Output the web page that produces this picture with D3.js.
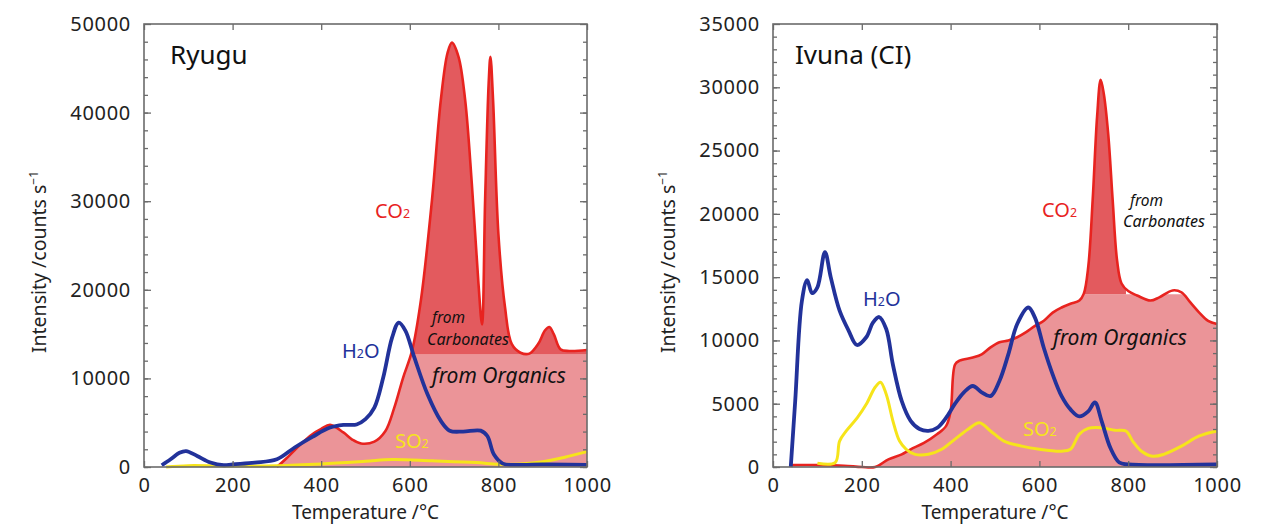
<!DOCTYPE html>
<html>
<head>
<meta charset="utf-8">
<script src="https://cdn.jsdelivr.net/npm/d3@7"></script>
<style>
  body { margin: 0; background: #fff; }
  text { font-family: "Noto Sans", "Open Sans", sans-serif; }
</style>
</head>
<body>
<svg id="chart" width="1278" height="524"></svg>
<script>
// ---------------------------//
//       DATA  [T °C, counts/s]
// ---------------------------//

var ryuguCO2 = [[300,0],[320,900],[350,2400],[380,3700],[400,4300],[420,4750],[450,3900],[470,3100],[490,2650],[520,2870],
  [545,4070],[565,6700],[585,10100],[605,13100],[625,18800],[650,30100],[670,41400],[685,46700],[695,47900],[710,46300],
  [725,41400],[740,32000],[755,20700],[763,16100],[770,30100],[778,43300],[782,46300],[788,41400],[800,26300],[815,18000],
  [830,13900],[850,12900],[870,12800],[890,13900],[905,15400],[915,15800],[925,15000],[940,13300],[960,13100],[1000,13200]]
var ryuguH2O = [[40,200],[60,870],[80,1600],[95,1800],[120,1250],[150,500],[180,200],[200,300],[250,500],[300,870],
  [340,2200],[380,3400],[420,4450],[450,4750],[480,4800],[500,5400],[520,6700],[540,10100],[560,14600],[575,16300],
  [590,15400],[610,12400],[640,8200],[670,5200],[690,4100],[720,4000],[760,4100],[775,3500],[790,1400],[810,380],
  [850,250],[900,300],[1000,250]]
var ryuguSO2 = [[50,0],[100,150],[200,100],[300,150],[400,350],[500,650],[560,850],[650,700],[750,500],[800,300],
  [850,350],[900,600],[950,1100],[1000,1730]]

var ivunaCO2 = [[40,150],[100,150],[160,100],[200,0],[230,0],[260,600],[290,1000],[310,1400],[340,1900],[370,2600],
  [390,3250],[400,4400],[410,8100],[420,8400],[450,8650],[470,8900],[490,9450],[510,9850],[530,10000],[550,10250],
  [570,10650],[590,11150],[610,11550],[630,12200],[650,12600],[670,12900],[690,13150],[700,13700],[710,15800],
  [720,21100],[730,27700],[738,30600],[745,29500],[755,26300],[765,21100],[775,16300],[785,14500],[800,13900],
  [820,13550],[850,13150],[870,13400],[900,13950],[920,13800],[940,13000],[960,12200],[980,11550],[1000,11300]]
var ivunaH2O = [[40,0],[50,5200],[65,13100],[77,14770],[88,13740],[100,14200],[117,16980],[130,15000],[150,12350],
  [170,10800],[189,9640],[210,10250],[225,11400],[239,11850],[255,10900],[270,8100],[290,5200],[310,3650],[330,3000],
  [350,2850],[370,3100],[390,3900],[410,5000],[430,5900],[450,6400],[470,5900],[490,5600],[510,6800],[530,8900],
  [550,11300],[575,12600],[590,11800],[610,9400],[630,7300],[650,5600],[670,4550],[690,4000],[710,4400],[725,5100],
  [740,3650],[760,1500],[780,350],[800,200],[1000,200]]
var ivunaSO2 = [[100,300],[140,350],[150,2050],[165,2850],[190,3900],[210,4950],[230,6300],[242,6700],[255,5750],
  [270,3650],[285,2050],[300,1400],[320,1000],[350,1000],[380,1400],[410,2200],[440,3000],[465,3500],[490,2850],
  [520,2050],[560,1650],[600,1400],[650,1250],[670,1400],[690,2600],[710,3050],[740,3100],[770,2900],[795,2850],
  [810,2050],[830,1250],[855,850],[880,1000],[920,1650],[960,2450],[1000,2850]]

var xTicks = [0, 200, 400, 600, 800, 1000]
var ryuguYTicks = [0, 10000, 20000, 30000, 40000, 50000]
var ivunaYTicks = [0, 5000, 10000, 15000, 20000, 25000, 30000, 35000]

var svg = d3.select("#chart")

var red = "#e8231f", blue = "#22329a", yellow = "#f6e41a"
var darkFill = "#e35a5e", lightFill = "#eb9498"

function sub(t, main, s, tail) {
  t.append("tspan").text(main)
  t.append("tspan").attr("font-size", "62%").text(s)
  if (tail) t.append("tspan").text(tail)
}

function drawPanel(p) {
  var g = svg.append("g")
  var x = d3.scaleLinear().domain([0, 1000]).range(p.xr)
  var y = d3.scaleLinear().domain([0, p.ymax]).range([467, 24])
  var id = p.id

  // clip for the two fill parts
  var defs = g.append("defs")
  defs.append("clipPath").attr("id", id + "-low")
    .append("rect").attr("x", p.xr[0]).attr("width", p.xr[1] - p.xr[0])
    .attr("y", y(p.base)).attr("height", 467 - y(p.base))
  defs.append("clipPath").attr("id", id + "-high")
    .append("rect").attr("x", x(p.carb[0])).attr("width", x(p.carb[1]) - x(p.carb[0]))
    .attr("y", 24).attr("height", y(p.base) - 24)

  var fillData = p.co2.filter(function(d){ return d[0] >= p.fillFrom })
  var area = d3.area().curve(d3.curveCatmullRom)
    .x(function(d){ return x(d[0]) }).y0(y(0)).y1(function(d){ return y(d[1]) })
  g.append("path").datum(fillData).attr("d", area).attr("fill", lightFill)
    .attr("clip-path", "url(#" + id + "-low)")
  g.append("path").datum(fillData).attr("d", area).attr("fill", darkFill)
    .attr("clip-path", "url(#" + id + "-high)")

  var line = d3.line().curve(d3.curveCatmullRom)
    .x(function(d){ return x(d[0]) }).y(function(d){ return y(d[1]) })
  g.append("path").datum(p.co2).attr("d", line).attr("fill", "none").attr("stroke", red).attr("stroke-width", 2.6)
  g.append("path").datum(p.so2).attr("d", line).attr("fill", "none").attr("stroke", yellow).attr("stroke-width", 3)
  g.append("path").datum(p.h2o).attr("d", line).attr("fill", "none").attr("stroke", blue).attr("stroke-width", 3.8)
    .attr("stroke-linejoin", "round")

  // ---------------------------//
  //       AXIS  AND FRAME      //
  // ---------------------------//
  var axisColor = "#6b6b6b"
  g.append("g").attr("transform", "translate(0,467)")
    .call(d3.axisBottom(x).tickValues(xTicks).tickSizeInner(-6).tickSizeOuter(0).tickPadding(11).tickFormat(d3.format("d")))
  g.append("g").attr("transform", "translate(0,24)")
    .call(d3.axisTop(x).tickValues(xTicks).tickSizeInner(-6).tickSizeOuter(0).tickFormat(""))
  g.append("g").attr("transform", "translate(" + p.xr[0] + ",0)")
    .call(d3.axisLeft(y).tickValues(p.yTicks).tickSizeInner(-7).tickSizeOuter(0).tickPadding(13).tickFormat(d3.format("d")))
  g.append("g").attr("transform", "translate(" + p.xr[1] + ",0)")
    .call(d3.axisRight(y).tickValues(p.yTicks).tickSizeInner(-7).tickSizeOuter(0).tickFormat(""))
  var minor = d3.range(0, p.ymax, p.minor)
  g.append("g").attr("transform", "translate(" + p.xr[0] + ",0)")
    .call(d3.axisLeft(y).tickValues(minor).tickSizeInner(-4).tickSizeOuter(0).tickFormat(""))
  g.append("g").attr("transform", "translate(" + p.xr[1] + ",0)")
    .call(d3.axisRight(y).tickValues(minor).tickSizeInner(-4).tickSizeOuter(0).tickFormat(""))
  g.selectAll(".domain").remove()
  g.selectAll(".tick line").attr("stroke", axisColor).attr("stroke-width", 1.3)
  g.selectAll(".tick text").attr("font-size", 20).attr("fill", "#222")
    .style("font-family", "'Noto Sans', sans-serif").attr("letter-spacing", 0.7)

  g.append("rect").attr("x", p.xr[0]).attr("y", 24).attr("width", p.xr[1] - p.xr[0]).attr("height", 443)
    .attr("fill", "none").attr("stroke", axisColor).attr("stroke-width", 1.6)

  // axis titles
  var midX = (p.xr[0] + p.xr[1]) / 2
  g.append("text").attr("x", midX).attr("y", 519).attr("text-anchor", "middle")
    .attr("font-size", 19).attr("fill", "#222").text("Temperature /°C")
  var yl = g.append("text").attr("transform", "translate(" + p.ylabX + ",262) rotate(-90)")
    .attr("text-anchor", "middle").attr("font-size", 19.5).attr("fill", "#222")
  yl.append("tspan").text("Intensity /counts s")
  yl.append("tspan").attr("font-size", 12).attr("dy", -8).text("−1")

  // ---------------------------//
  //       LABELS               //
  // ---------------------------//
  g.append("text").attr("x", p.title[1]).attr("y", 64).attr("font-size", 26).attr("fill", "#111").text(p.title[0])
  sub(g.append("text").attr("x", p.co2Lab[0]).attr("y", p.co2Lab[1]).attr("font-size", 20).attr("fill", red), "CO", "2")
  sub(g.append("text").attr("x", p.h2oLab[0]).attr("y", p.h2oLab[1]).attr("font-size", 20).attr("fill", blue), "H", "2", "O")
  sub(g.append("text").attr("x", p.so2Lab[0]).attr("y", p.so2Lab[1]).attr("font-size", 20).attr("fill", yellow), "SO", "2")

  // narrow italic two-line label, squeezed to the width seen in the picture
  var carb = g.append("text").attr("font-size", 15.5).attr("font-style", "italic").attr("fill", "#111")
  carb.append("tspan").attr("x", p.fromLab[0]).attr("y", p.fromLab[1])
    .attr("textLength", 33).attr("lengthAdjust", "spacingAndGlyphs").text("from")
  carb.append("tspan").attr("x", p.carbLab[0]).attr("y", p.carbLab[1])
    .attr("textLength", 82).attr("lengthAdjust", "spacingAndGlyphs").text("Carbonates")
  g.append("text").attr("x", p.orgLab[0]).attr("y", p.orgLab[1]).attr("font-size", 21)
    .attr("font-style", "italic").attr("fill", "#111").text("from Organics")
}

drawPanel({
  id: "ryugu", xr: [144, 587], ymax: 50000, yTicks: ryuguYTicks, minor: 2000,
  co2: ryuguCO2, h2o: ryuguH2O, so2: ryuguSO2, base: 12700, carb: [590, 1000], fillFrom: 300,
  ylabX: 46, title: ["Ryugu", 170],
  co2Lab: [375, 218], h2oLab: [342, 358], so2Lab: [395, 448],
  fromLab: [432, 323], carbLab: [427, 345], orgLab: [432, 383]
})

drawPanel({
  id: "ivuna", xr: [773, 1217], ymax: 35000, yTicks: ivunaYTicks, minor: 1000,
  co2: ivunaCO2, h2o: ivunaH2O, so2: ivunaSO2, base: 13650, carb: [695, 795], fillFrom: 230,
  ylabX: 675, title: ["Ivuna (CI)", 795],
  co2Lab: [1042, 217], h2oLab: [863, 306], so2Lab: [1023, 436],
  fromLab: [1130, 206], carbLab: [1123, 227], orgLab: [1053, 345]
})
</script>
</body>
</html>
